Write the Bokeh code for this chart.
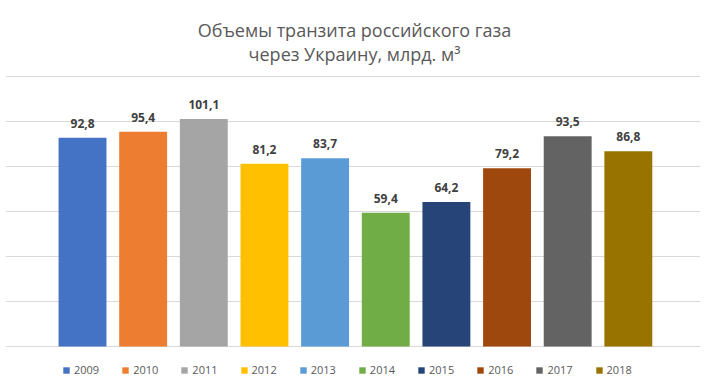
from bokeh.plotting import figure
from bokeh.models import ColumnDataSource, Range1d, Grid, FixedTicker, Legend, LegendItem
from bokeh.core.properties import value
from bokeh.embed import file_html
from bokeh.resources import INLINE

years = ["2009", "2010", "2011", "2012", "2013", "2014", "2015", "2016", "2017", "2018"]
values = [92.8, 95.4, 101.1, 81.2, 83.7, 59.4, 64.2, 79.2, 93.5, 86.8]
labels = ["92,8", "95,4", "101,1", "81,2", "83,7", "59,4", "64,2", "79,2", "93,5", "86,8"]
colors = ["#4472C4", "#ED7D31", "#A5A5A5", "#FFC000", "#5B9BD5",
          "#70AD47", "#264478", "#9E480E", "#636363", "#997300"]
grid_ticks = [0, 20, 40, 60, 80, 100, 120]
title_line1 = "Объемы транзита российского газа"
title_line2 = "через Украину, млрд. м³"

xs = list(range(len(years)))
src = ColumnDataSource(dict(x=xs, top=values, label=labels, color=colors, year=years))

x0, x1 = -1.27, 10.19
y0, y1 = -20.44, 153.78
p = figure(width=710, height=392, output_backend="svg", toolbar_location=None,
           x_axis_type=None, y_axis_type=None,
           x_range=Range1d(x0, x1), y_range=Range1d(y0, y1),
           min_border_left=5, min_border_right=10, min_border_top=0, min_border_bottom=0)
p.outline_line_color = None
p.background_fill_color = "white"
p.title.visible = False

grid = Grid(dimension=1, ticker=FixedTicker(ticks=grid_ticks),
            grid_line_color="#D9D9D9", grid_line_width=1)
p.add_layout(grid)

items = []
for i in xs:
    r = p.vbar(x=[xs[i]], top=[values[i]], bottom=0, width=0.79,
               fill_color=colors[i], line_color=None)
    items.append(LegendItem(label=years[i], renderers=[r]))

p.text(x="x", y="top", text="label", source=src, text_align="center",
       text_baseline="bottom", y_offset=-10, text_font_size="12px",
       text_font_style="bold", text_color="#404040", text_font=value("Open Sans"))

# two-line chart title, placed in screen offsets from the top of the frame
x_mid = 4.485
for t, off in ((title_line1, 29), (title_line2, 53)):
    p.text(x=[x_mid], y=[y1], text=[t], y_offset=off, text_align="center",
           text_baseline="alphabetic", text_font=value("Open Sans"),
           text_font_size="18px", text_color="#595959")

legend = Legend(items=items, orientation="horizontal", location=(57, 15),
                glyph_width=8, glyph_height=8, label_standoff=4, spacing=22,
                label_text_font="Open Sans", label_text_font_size="11px",
                label_text_color="#595959", label_height=14,
                padding=0, margin=0, border_line_color=None, background_fill_alpha=0)
p.add_layout(legend)

open("out.html", "w").write(file_html(p, INLINE))
